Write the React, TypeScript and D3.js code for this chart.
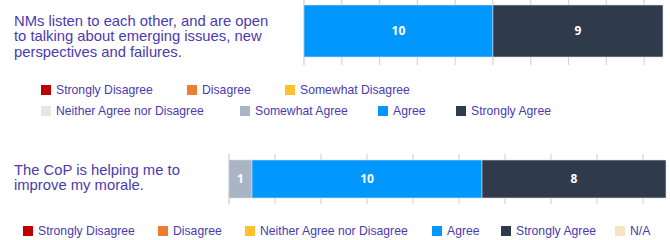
import React from "react";
import * as d3 from "d3";

// ---- data ----
const categoriesTop = [
  "Strongly Disagree",
  "Disagree",
  "Somewhat Disagree",
  "Neither Agree nor Disagree",
  "Somewhat Agree",
  "Agree",
  "Strongly Agree",
];
const valuesTop = [0, 0, 0, 0, 0, 10, 9];
const questionTop = [
  "NMs listen to each other, and are open",
  "to talking about emerging issues, new",
  "perspectives and failures.",
];

const categoriesBottom = [
  "Strongly Disagree",
  "Disagree",
  "Neither Agree nor Disagree",
  "Somewhat Agree",
  "Agree",
  "Strongly Agree",
  "N/A",
];
const valuesBottom = [0, 0, 0, 1, 10, 8, 0];
const legendBottom = [
  "Strongly Disagree",
  "Disagree",
  "Neither Agree nor Disagree",
  "Agree",
  "Strongly Agree",
  "N/A",
];
const questionBottom = ["The CoP is helping me to", "improve my morale."];

const xMax = 19;
const tickValues = [0, 2, 4, 6, 8, 10, 12, 14, 16, 18];

// ---- styles ----
const colorTop: Record<string, string> = {
  "Strongly Disagree": "#c00000",
  Disagree: "#ed7d31",
  "Somewhat Disagree": "#ffc12b",
  "Neither Agree nor Disagree": "#e6e6e6",
  "Somewhat Agree": "#a9b4c4",
  Agree: "#0098ff",
  "Strongly Agree": "#2f3a4a",
};
const colorBottom: Record<string, string> = {
  "Strongly Disagree": "#c00000",
  Disagree: "#ed7d31",
  "Neither Agree nor Disagree": "#ffc12b",
  "Somewhat Agree": "#a9b4c4",
  Agree: "#0098ff",
  "Strongly Agree": "#2f3a4a",
  "N/A": "#f6e4c2",
};
const TEXT = "#4a3aae";
const GRID = "#d6d6d6";
const FONT = "'Liberation Sans', Arial, Helvetica, sans-serif";

type Seg = { key: string; x0: number; x1: number; v: number };
function stack(cats: string[], vals: number[]): Seg[] {
  let acc = 0;
  const out: Seg[] = [];
  cats.forEach((c, i) => {
    const v = vals[i];
    out.push({ key: c, x0: acc, x1: acc + v, v });
    acc += v;
  });
  return out.filter((s) => s.v > 0);
}

function BarBlock(props: {
  cats: string[];
  vals: number[];
  colors: Record<string, string>;
  x0: number;
  x1: number;
  barTop: number;
  barBottom: number;
  gridTop: number;
  gridBottom: number;
}) {
  const { cats, vals, colors, x0, x1, barTop, barBottom, gridTop, gridBottom } = props;
  const x = d3.scaleLinear().domain([0, xMax]).range([x0, x1]);
  const segs = stack(cats, vals);
  return (
    <g>
      {tickValues.map((t) => (
        <line
          key={t}
          x1={x(t)}
          x2={x(t)}
          y1={gridTop}
          y2={gridBottom}
          stroke={GRID}
          strokeWidth={t === 0 ? 1.5 : 1.2}
        />
      ))}
      {segs.map((s) => (
        <rect
          key={s.key}
          x={x(s.x0)}
          y={barTop}
          width={x(s.x1) - x(s.x0)}
          height={barBottom - barTop}
          fill={colors[s.key]}
          stroke="#d8dde3"
          strokeWidth={0.6}
        />
      ))}
      {segs.map((s) => (
        <text
          key={s.key + "l"}
          x={(x(s.x0) + x(s.x1)) / 2}
          y={(barTop + barBottom) / 2}
          dy="0.35em"
          textAnchor="middle"
          fill="#ffffff"
          fontWeight="bold"
          fontSize={12}
          fontFamily="'Open Sans', 'Liberation Sans', sans-serif"
        >
          {s.v}
        </text>
      ))}
    </g>
  );
}

function Legend(props: {
  items: string[];
  colors: Record<string, string>;
  xs: number[];
  cy: number;
}) {
  const { items, colors, xs, cy } = props;
  return (
    <g>
      {items.map((it, i) => (
        <g key={it}>
          <rect x={xs[i]} y={cy - 5} width={10} height={10} fill={colors[it]} />
          <text
            x={xs[i] + 15}
            y={cy}
            dy="0.35em"
            fontSize={12.2}
            fontFamily={FONT}
            fill={TEXT}
          >
            {it}
          </text>
        </g>
      ))}
    </g>
  );
}

export default function App() {
  return (
    <svg
      width={670}
      height={240}
      style={{ position: "absolute", left: 0, top: 0, background: "#fff" }}
    >
      {questionTop.map((l, i) => (
        <text key={l} x={14} y={25.5 + i * 15.5} fontSize={14.8} fontFamily={FONT} fill={TEXT}>
          {l}
        </text>
      ))}
      <BarBlock
        cats={categoriesTop}
        vals={valuesTop}
        colors={colorTop}
        x0={304}
        x1={663}
        barTop={5}
        barBottom={57}
        gridTop={0}
        gridBottom={65}
      />
      <Legend
        items={categoriesTop.slice(0, 3)}
        colors={colorTop}
        xs={[41, 187, 285]}
        cy={90}
      />
      <Legend
        items={categoriesTop.slice(3)}
        colors={colorTop}
        xs={[41, 240, 378, 456]}
        cy={111}
      />

      {questionBottom.map((l, i) => (
        <text key={l} x={14} y={174.5 + i * 15.5} fontSize={14.8} fontFamily={FONT} fill={TEXT}>
          {l}
        </text>
      ))}
      <BarBlock
        cats={categoriesBottom}
        vals={valuesBottom}
        colors={colorBottom}
        x0={229}
        x1={666}
        barTop={160}
        barBottom={198}
        gridTop={154}
        gridBottom={204}
      />
      <Legend
        items={legendBottom}
        colors={colorBottom}
        xs={[23, 158, 245, 432, 501, 615]}
        cy={231}
      />
    </svg>
  );
}
